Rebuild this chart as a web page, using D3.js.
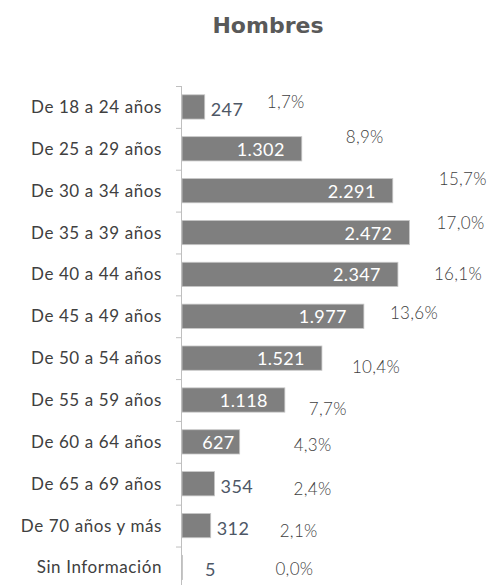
<!DOCTYPE html>
<html>
<head>
<meta charset="utf-8">
<script src="https://cdn.jsdelivr.net/npm/d3@7"></script>
<style>
  body { margin: 0; background: #fff; }
  svg { display: block; }
</style>
</head>
<body>
<svg width="489" height="585"></svg>
<script>
// data
var categories = ["De 18 a 24 años", "De 25 a 29 años", "De 30 a 34 años", "De 35 a 39 años",
  "De 40 a 44 años", "De 45 a 49 años", "De 50 a 54 años", "De 55 a 59 años",
  "De 60 a 64 años", "De 65 a 69 años", "De 70 años y más", "Sin Información"];
var counts = [247, 1302, 2291, 2472, 2347, 1977, 1521, 1118, 627, 354, 312, 5];
var countLabels = ["247", "1.302", "2.291", "2.472", "2.347", "1.977", "1.521", "1.118", "627", "354", "312", "5"];
var pctLabels = ["1,7%", "8,9%", "15,7%", "17,0%", "16,1%", "13,6%", "10,4%", "7,7%", "4,3%", "2,4%", "2,1%", "0,0%"];

// the % labels were dragged by hand in the original, so keep their nudges apart
var pctNudgeX = [62, 44, 46, 27, 36, 26, 30, 24, 54, 79, 69, 93];
var pctNudgeY = [1, -6, -6, -4, 6, 3, 15, 15, 9, 11, 11, 8];

var svg = d3.select("svg");

var y = d3.scaleBand()
    .domain(categories)
    .range([86, 588.4])
    .paddingInner(0.42)
    .paddingOuter(0.21);

var x = d3.scaleLinear()
    .domain([0, 2500])
    .range([182, 412]);

var step = y.step();

// title
svg.append("text")
    .attr("x", 268)
    .attr("y", 33)
    .attr("text-anchor", "middle")
    .style("font-family", "'DejaVu Sans', sans-serif")
    .style("font-weight", "bold")
    .style("font-size", "22px")
    .style("fill", "#595959")
    .text("Hombres");

// bars
svg.selectAll("rect.bar")
    .data(counts)
    .join("rect")
    .attr("class", "bar")
    .attr("x", x(0))
    .attr("y", (d, i) => y(categories[i]))
    .attr("width", d => x(d) - x(0))
    .attr("height", y.bandwidth())
    .style("fill", "#7f7f7f")
    .style("stroke", "#c8c8c8")
    .style("stroke-width", 0.8);

// vertical axis (ticks sit between the bands)
var ax = svg.append("g");
ax.append("line")
    .attr("x1", 181.5).attr("x2", 181.5)
    .attr("y1", y.range()[0]).attr("y2", y.range()[1])
    .style("stroke", "#bfbfbf");
ax.selectAll("line.tick")
    .data(categories)
    .join("line")
    .attr("class", "tick")
    .attr("x1", 176).attr("x2", 181.5)
    .attr("y1", d => y(d) - step * 0.21 + 0.5)
    .attr("y2", d => y(d) - step * 0.21 + 0.5)
    .style("stroke", "#bfbfbf");

// category labels
svg.selectAll("text.cat")
    .data(categories)
    .join("text")
    .attr("class", "cat")
    .attr("x", 162)
    .attr("y", d => y(d) + y.bandwidth() / 2 + 6)
    .attr("text-anchor", "end")
    .style("font-family", "Lato, sans-serif")
    .style("font-size", "17px")
    .style("letter-spacing", "0.6px")
    .style("fill", "#404040")
    .text(d => d);

// value labels: inside the bar end when it fits, otherwise just past it
svg.selectAll("text.val")
    .data(counts)
    .join("text")
    .attr("class", "val")
    .attr("x", d => {
        var w = x(d) - x(0);
        if (w > 80) return x(d) - 17;
        if (w > 50) return x(d) - 5;
        return Math.max(x(d) + 6, x(0) + 23);
    })
    .attr("y", (d, i) => y(categories[i]) + y.bandwidth() / 2 + (x(d) - x(0) > 50 ? 7 : 9))
    .attr("text-anchor", d => (x(d) - x(0) > 50 ? "end" : "start"))
    .style("font-family", "Lato, sans-serif")
    .style("font-size", "18px")
    .style("letter-spacing", "0.4px")
    .style("fill", d => (x(d) - x(0) > 50 ? "#ffffff" : "#4d5766"))
    .text((d, i) => countLabels[i]);

// percentage labels
svg.selectAll("text.pct")
    .data(counts)
    .join("text")
    .attr("class", "pct")
    .attr("x", (d, i) => x(d) + pctNudgeX[i])
    .attr("y", (d, i) => y(categories[i]) + y.bandwidth() / 2 + pctNudgeY[i])
    .style("font-family", "Lato, sans-serif")
    .style("font-weight", 300)
    .style("font-size", "17px")
    .style("letter-spacing", "0.3px")
    .style("fill", "#404040")
    .text((d, i) => pctLabels[i]);
</script>
</body>
</html>
